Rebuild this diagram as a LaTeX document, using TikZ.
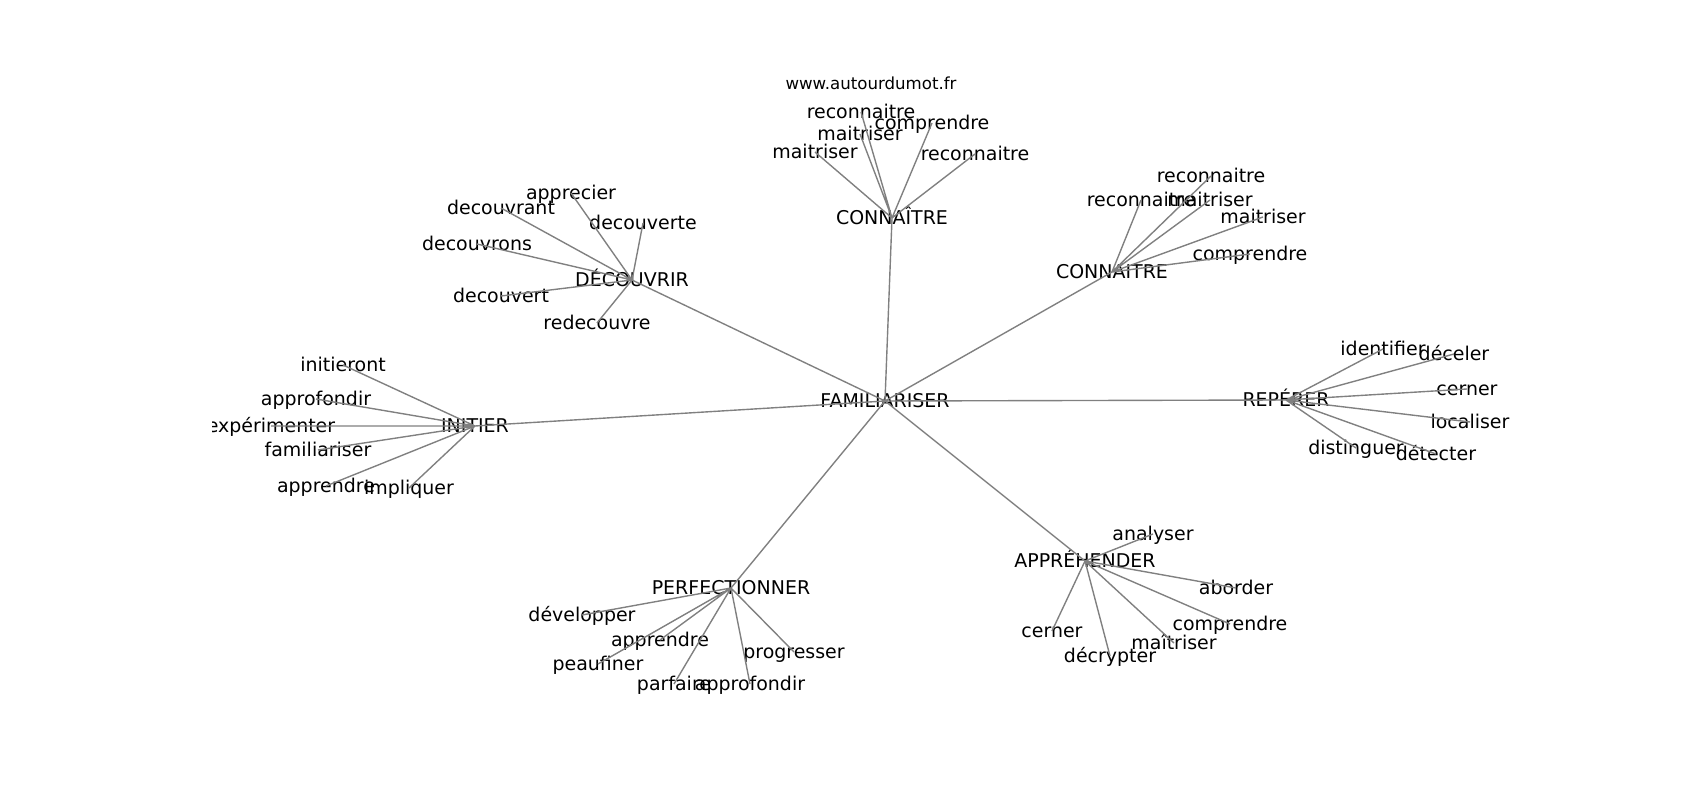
\documentclass[tikz,border=0pt]{standalone}
\usepackage{fontspec}
\setmainfont{DejaVu Sans}
\begin{document}
\begin{tikzpicture}[
    x=0.01in, y=-0.01in,
    every node/.style={align=center, inner sep=0pt, text height=11.8pt, text depth=1.9pt,
        font=\fontsize{13.7}{16}\selectfont},
    edge line/.style={draw, gray, line width=1pt},
    title text/.style={font=\fontsize{12}{14}\selectfont},
    ]
\path[fill=white] (0,0) rectangle (1700,800);
\node[title text] (title) at (871,83) {www.autourdumot.fr};
\begin{scope}
\clip (212.5,96) rectangle (1530,712);
% hubs
\node (FAM) at (885,401) {FAMILIARISER};
\node (CONtop) at (892,218) {CONNAÎTRE};
\node (CONright) at (1112,272) {CONNAITRE};
\node (DEC) at (632,280) {DÉCOUVRIR};
\node (INI) at (475,426) {INITIER};
\node (REP) at (1286,400) {REPÉRER};
\node (APP) at (1085,561) {APPRÉHENDER};
\node (PER) at (731,588) {PERFECTIONNER};
% CONNAÎTRE
\node (ct1) at (861,112) {reconnaitre};
\node (ct2) at (932,123) {comprendre};
\node (ct3) at (860,134) {maitriser};
\node (ct4) at (815,152) {maitriser};
\node (ct5) at (975,154) {reconnaitre};
% CONNAITRE
\node (cr1) at (1211,176) {reconnaitre};
\node (cr2) at (1141,200) {reconnaitre};
\node (cr3) at (1210,200) {maitriser};
\node (cr4) at (1263,217) {maitriser};
\node (cr5) at (1250,254) {comprendre};
% DÉCOUVRIR
\node (dec1) at (571,193) {apprecier};
\node (dec2) at (501,208) {decouvrant};
\node (dec3) at (643,223) {decouverte};
\node (dec4) at (477,244) {decouvrons};
\node (dec5) at (501,296) {decouvert};
\node (dec6) at (597,323) {redecouvre};
% INITIER
\node (ini1) at (343,365) {initieront};
\node (ini2) at (316,399) {approfondir};
\node (ini3) at (271,426) {expérimenter};
\node (ini4) at (318,450) {familiariser};
\node (ini5) at (326,486) {apprendre};
\node (ini6) at (409,488) {impliquer};
% REPÉRER
\node (rep1) at (1383,349) {identifier};
\node (rep2) at (1454,354) {déceler};
\node (rep3) at (1467,389) {cerner};
\node (rep4) at (1470,422) {localiser};
\node (rep5) at (1356,448) {distinguer};
\node (rep6) at (1436,454) {détecter};
% APPRÉHENDER
\node (app1) at (1153,534) {analyser};
\node (app2) at (1236,588) {aborder};
\node (app3) at (1230,624) {comprendre};
\node (app4) at (1052,631) {cerner};
\node (app5) at (1174,643) {maîtriser};
\node (app6) at (1110,656) {décrypter};
% PERFECTIONNER
\node (per1) at (582,615) {développer};
\node (per2) at (660,640) {apprendre};
\node (per3) at (794,652) {progresser};
\node (per4) at (598,664) {peaufiner};
\node (per5) at (674,684) {parfaire};
\node (per6) at (750,684) {approfondir};
% edges
\draw[edge line] (FAM.center) -- (CONtop.center) (FAM.center) -- (CONright.center)
    (FAM.center) -- (DEC.center) (FAM.center) -- (INI.center) (FAM.center) -- (REP.center)
    (FAM.center) -- (APP.center) (FAM.center) -- (PER.center);
\draw[edge line] (CONtop.center) -- (ct1.center) (CONtop.center) -- (ct2.center)
    (CONtop.center) -- (ct3.center) (CONtop.center) -- (ct4.center) (CONtop.center) -- (ct5.center);
\draw[edge line] (CONright.center) -- (cr1.center) (CONright.center) -- (cr2.center)
    (CONright.center) -- (cr3.center) (CONright.center) -- (cr4.center) (CONright.center) -- (cr5.center);
\draw[edge line] (DEC.center) -- (dec1.center) (DEC.center) -- (dec2.center) (DEC.center) -- (dec3.center)
    (DEC.center) -- (dec4.center) (DEC.center) -- (dec5.center) (DEC.center) -- (dec6.center);
\draw[edge line] (INI.center) -- (ini1.center) (INI.center) -- (ini2.center) (INI.center) -- (ini3.center)
    (INI.center) -- (ini4.center) (INI.center) -- (ini5.center) (INI.center) -- (ini6.center);
\draw[edge line] (REP.center) -- (rep1.center) (REP.center) -- (rep2.center) (REP.center) -- (rep3.center)
    (REP.center) -- (rep4.center) (REP.center) -- (rep5.center) (REP.center) -- (rep6.center);
\draw[edge line] (APP.center) -- (app1.center) (APP.center) -- (app2.center) (APP.center) -- (app3.center)
    (APP.center) -- (app4.center) (APP.center) -- (app5.center) (APP.center) -- (app6.center);
\draw[edge line] (PER.center) -- (per1.center) (PER.center) -- (per2.center) (PER.center) -- (per3.center)
    (PER.center) -- (per4.center) (PER.center) -- (per5.center) (PER.center) -- (per6.center);
\end{scope}
\end{tikzpicture}
\end{document}
